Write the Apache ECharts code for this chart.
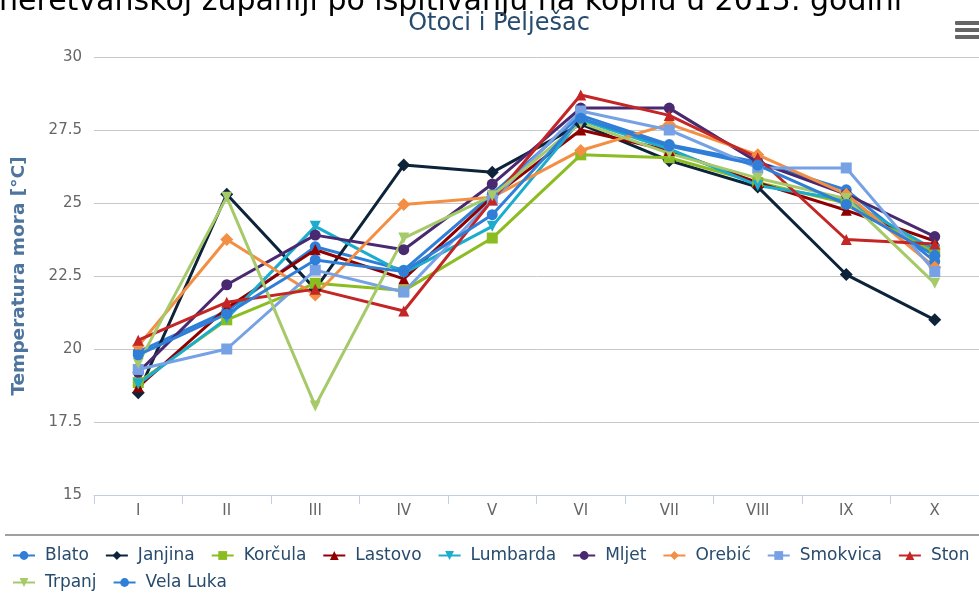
<!DOCTYPE html>
<html>
<head>
<meta charset="utf-8">
<script src="https://cdn.jsdelivr.net/npm/echarts@6.0.0/dist/echarts.min.js"></script>
<style>
  html, body { margin: 0; padding: 0; background: #fff; }
  #chart { width: 979px; height: 594px; }
</style>
</head>
<body>
<div id="chart"></div>
<script>
// mjeseci (kategorije x osi)
const months = ['I', 'II', 'III', 'IV', 'V', 'VI', 'VII', 'VIII', 'IX', 'X'];

// temperature mora po lokacijama [°C]
const blato    = [19.9, 21.3, 23.5, 22.7, 25.3, 28.0, 27.0, 26.4, 25.45, 23.0];
const janjina  = [18.5, 25.3, 22.05, 26.3, 26.05, 27.7, 26.45, 25.55, 22.55, 21.0];
const korcula  = [18.85, 21.0, 22.25, 22.0, 23.8, 26.65, 26.55, 25.7, 25.0, 23.3];
const lastovo  = [18.7, 21.4, 23.4, 22.4, 25.2, 27.5, 26.8, 25.7, 24.75, 23.7];
const lumbarda = [18.8, 21.05, 24.2, 22.6, 24.2, 27.85, 26.85, 25.6, 25.1, 23.4];
const mljet    = [19.2, 22.2, 23.9, 23.4, 25.65, 28.25, 28.25, 26.4, 25.3, 23.85];
const orebic   = [20.1, 23.75, 21.85, 24.95, 25.2, 26.8, 27.7, 26.65, 25.3, 22.8];
const smokvica = [19.3, 20.0, 22.7, 21.95, 25.1, 28.15, 27.5, 26.2, 26.2, 22.65];
const ston     = [20.3, 21.6, 22.05, 21.3, 25.1, 28.7, 28.0, 26.55, 23.75, 23.6];
const trpanj   = [19.5, 25.2, 18.05, 23.8, 25.25, 27.75, 26.7, 25.85, 25.15, 22.25];
const velaLuka = [19.8, 21.2, 23.05, 22.65, 24.6, 27.9, 26.95, 26.3, 24.95, 23.2];

const yTicks = { min: 15, max: 30, step: 2.5 };

const TRI_DOWN = 'path://M0,0L10,0L5,10Z';

// ime, podaci, boja, simbol (redoslijed kao u Highcharts)
const locations = [
    ['Blato', blato, '#2f7ed8', 'circle'],
    ['Janjina', janjina, '#0d233a', 'diamond'],
    ['Korčula', korcula, '#8bbc21', 'rect'],
    ['Lastovo', lastovo, '#910000', 'triangle'],
    ['Lumbarda', lumbarda, '#1aadce', TRI_DOWN],
    ['Mljet', mljet, '#492970', 'circle'],
    ['Orebić', orebic, '#f28f43', 'diamond'],
    ['Smokvica', smokvica, '#77a1e5', 'rect'],
    ['Ston', ston, '#c42525', 'triangle'],
    ['Trpanj', trpanj, '#a6c96a', TRI_DOWN],
    ['Vela Luka', velaLuka, '#2f7ed8', 'circle']
];

const FONT = 'DejaVu Sans';

const symbolSizeFor = (s) => s === 'diamond' ? 13 : 11;

const series = locations.map(([name, data, color, symbol]) => ({
    name: name,
    type: 'line',
    data: data,
    symbol: symbol,
    symbolSize: symbolSizeFor(symbol),
    showAllSymbol: true,
    lineStyle: { width: 3, color: color },
    itemStyle: { color: color },
    emphasis: { disabled: true }
}));

// legenda u dva reda kao u originalu
const legendRow = (names, top) => ({
    left: 12,
    top: top,
    padding: 0,
    itemWidth: 22,
    itemHeight: 11,
    itemGap: 16,
    textStyle: { fontFamily: FONT, fontSize: 17, color: '#274b6d', padding: [0, 0, 0, 5] },
    data: names
});
const names = locations.map(l => l[0]);

const chart = echarts.init(document.getElementById('chart'), null, { renderer: 'canvas' });

chart.setOption({
    animation: false,
    backgroundColor: '#fff',
    color: locations.map(l => l[2]),
    title: {
        text: 'Otoci i Pelješac',
        left: 494,
        textAlign: 'center',
        top: 7,
        textStyle: { fontFamily: FONT, fontSize: 24, fontWeight: 'normal', color: '#274b6d' }
    },
    grid: { left: 94, right: -6, top: 57, bottom: 99, containLabel: false },
    xAxis: {
        type: 'category',
        data: months,
        boundaryGap: true,
        axisLine: { lineStyle: { color: '#c0d0e0', width: 1 } },
        axisTick: { show: true, length: 9, lineStyle: { color: '#c0d0e0' } },
        axisLabel: { fontFamily: FONT, fontSize: 15, color: '#666', margin: 9 },
        splitLine: { show: false }
    },
    yAxis: {
        type: 'value',
        min: yTicks.min,
        max: yTicks.max,
        interval: yTicks.step,
        name: 'Temperatura mora [°C]',
        nameLocation: 'middle',
        nameGap: 65,
        nameTextStyle: { fontFamily: FONT, fontSize: 18.5, fontWeight: 'bold', color: '#4d759e' },
        axisLine: { show: false },
        axisTick: { show: false },
        axisLabel: { fontFamily: FONT, fontSize: 15, color: '#666', margin: 12 },
        splitLine: { lineStyle: { color: '#c8c8c8', width: 1 } }
    },
    legend: [
        legendRow(names.slice(0, 9), 547),
        legendRow(names.slice(9), 574)
    ],
    graphic: [
        {
            type: 'text',
            left: -1,
            top: -13,
            style: {
                text: 'neretvanskoj županiji po ispitivanju na kopnu u 2015. godini',
                font: '30px "DejaVu Sans"',
                fill: '#000'
            }
        },
        {
            type: 'line',
            shape: { x1: 5, y1: 535, x2: 979, y2: 535 },
            style: { stroke: '#a0a0a0', lineWidth: 2 }
        },
        {
            type: 'group',
            left: 955,
            top: 21,
            children: [
                { type: 'rect', shape: { x: 0, y: 0, width: 26, height: 4, r: 1 }, style: { fill: '#666' } },
                { type: 'rect', shape: { x: 0, y: 7, width: 26, height: 4, r: 1 }, style: { fill: '#666' } },
                { type: 'rect', shape: { x: 0, y: 14, width: 26, height: 4, r: 1 }, style: { fill: '#666' } }
            ]
        }
    ],
    series: series
});
</script>
</body>
</html>
